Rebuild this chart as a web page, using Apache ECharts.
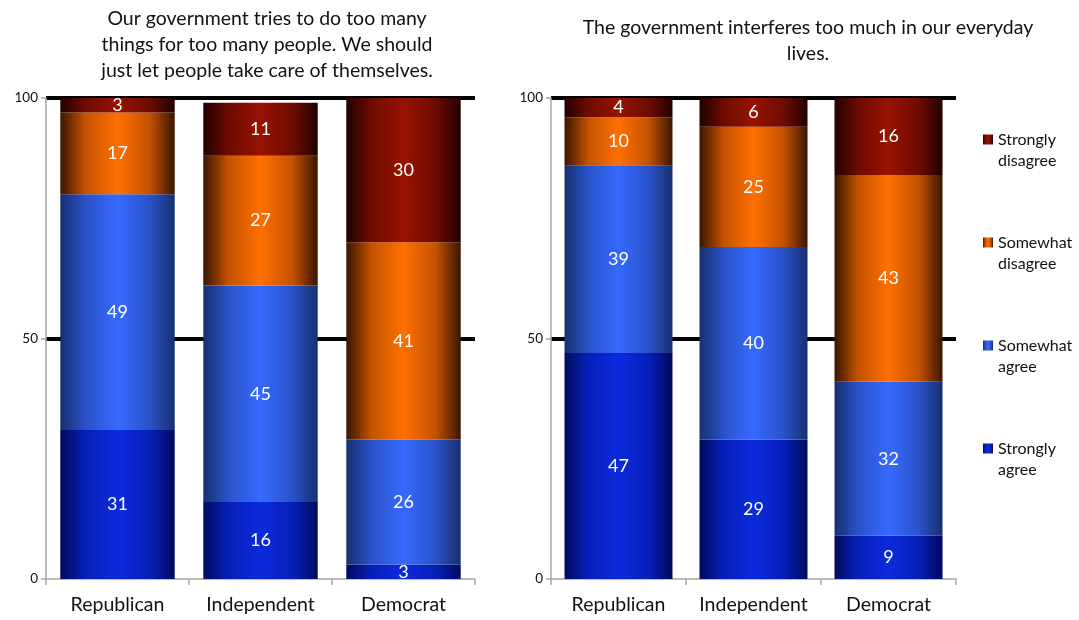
<!DOCTYPE html>
<html>
<head>
<meta charset="utf-8">
<script src="https://cdn.jsdelivr.net/npm/echarts@6/dist/echarts.min.js"></script>
<style>
  html, body { margin: 0; padding: 0; background: #fff; }
  #chart { width: 1079px; height: 620px; }
</style>
</head>
<body>
<div id="chart"></div>
<script>
// Party categories shared by both panels
const parties = ['Republican', 'Independent', 'Democrat'];

// Response levels, bottom of stack to top
const levels = ['Strongly agree', 'Somewhat agree', 'Somewhat disagree', 'Strongly disagree'];
const legendLabels = ['Strongly\nagree', 'Somewhat\nagree', 'Somewhat\ndisagree', 'Strongly\ndisagree'];

// Panel 1: "Our government tries to do too many things..."
const tooManyStronglyAgree     = [31, 16, 3];
const tooManySomewhatAgree     = [49, 45, 26];
const tooManySomewhatDisagree  = [17, 27, 41];
const tooManyStronglyDisagree  = [3, 11, 30];

// Panel 2: "The government interferes too much..."
const interferesStronglyAgree    = [47, 29, 9];
const interferesSomewhatAgree    = [39, 40, 32];
const interferesSomewhatDisagree = [10, 25, 43];
const interferesStronglyDisagree = [4, 6, 16];

const yTicks = [0, 50, 100];

const titleLeft = 'Our government tries to do too many\nthings for too many people. We should\njust let people take care of themselves.';
const titleRight = 'The government interferes too much in our everyday\nlives.';

// Cylinder-like shading: dark edges, bright centre
function shade(edge, mid, centre) {
  return new echarts.graphic.LinearGradient(0, 0, 1, 0, [
    { offset: 0, color: edge },
    { offset: 0.22, color: mid },
    { offset: 0.5, color: centre },
    { offset: 0.78, color: mid },
    { offset: 1, color: edge }
  ]);
}
const fills = [
  shade('#000a5c', '#0620b8', '#0b2ade'),
  shade('#16306e', '#2a52c8', '#3669ff'),
  shade('#3a1500', '#c45200', '#ff7000'),
  shade('#220000', '#6e0c00', '#981200')
];

const FONT = 'Lato, "Open Sans", sans-serif';

// Legend marker: a square sitting level with the first line of a two-line label
// (the second, zero-area subpath only stretches the marker's box downwards)
const legendMarker = 'path://M0,0L10,0L10,10L0,10Z M0,31L0.001,31L0.001,31.001Z';

const panels = [
  [tooManyStronglyAgree, tooManySomewhatAgree, tooManySomewhatDisagree, tooManyStronglyDisagree],
  [interferesStronglyAgree, interferesSomewhatAgree, interferesSomewhatDisagree, interferesStronglyDisagree]
];

const series = [];
panels.forEach((sets, p) => {
  sets.forEach((vals, i) => {
    series.push({
      name: legendLabels[i],
      type: 'bar',
      xAxisIndex: p,
      yAxisIndex: p,
      stack: 'panel' + p,
      data: vals,
      barCategoryGap: '20%',
      itemStyle: { color: fills[i] },
      label: {
        show: true,
        position: 'inside',
        color: '#fff',
        fontSize: 18,
        fontFamily: FONT
      }
    });
  });
});

const axisGray = '#a6a6a6';
function xAxis(grid) {
  return {
    type: 'category',
    gridIndex: grid,
    data: parties,
    axisLine: { lineStyle: { color: axisGray, width: 1.5 } },
    axisTick: { show: true, length: 6, lineStyle: { color: axisGray, width: 1.5 } },
    axisLabel: { interval: 0, hideOverlap: false, color: '#111', fontSize: 19.5, fontFamily: FONT, margin: 16 }
  };
}
function yAxis(grid) {
  return {
    type: 'value',
    gridIndex: grid,
    min: yTicks[0],
    max: yTicks[yTicks.length - 1],
    interval: yTicks[1] - yTicks[0],
    axisLine: { show: true, lineStyle: { color: axisGray, width: 1.5 } },
    axisTick: { show: true, length: 5, lineStyle: { color: axisGray, width: 1.5 } },
    axisLabel: { color: '#111', fontSize: 13.5, fontFamily: FONT, margin: 8 },
    splitLine: {
      show: true,
      lineStyle: { color: ['rgba(0,0,0,0)', '#000', '#000'], width: 4 }
    }
  };
}

const chart = echarts.init(document.getElementById('chart'), null, { renderer: 'canvas' });
chart.setOption({
  backgroundColor: '#fff',
  animation: false,
  title: [
    {
      text: titleLeft, left: 262, top: 1, textAlign: 'center',
      textStyle: { fontSize: 19.5, fontWeight: 'normal', color: '#111', fontFamily: FONT, lineHeight: 26 }
    },
    {
      text: titleRight, left: 803, top: 10, textAlign: 'center',
      textStyle: { fontSize: 19.5, fontWeight: 'normal', color: '#111', fontFamily: FONT, lineHeight: 26 }
    }
  ],
  legend: {
    orient: 'vertical',
    left: 978,
    top: 124,
    data: legendLabels.slice().reverse(),
    icon: legendMarker,
    symbolKeepAspect: false,
    itemWidth: 10,
    itemHeight: 31,
    itemGap: 61,
    selectedMode: false,
    textStyle: { fontSize: 16, fontFamily: FONT, color: '#111', lineHeight: 21 }
  },
  grid: [
    { left: 46, top: 98, width: 429, height: 481 },
    { left: 551, top: 98, width: 405, height: 481 }
  ],
  xAxis: [xAxis(0), xAxis(1)],
  yAxis: [yAxis(0), yAxis(1)],
  series: series
});
</script>
</body>
</html>
